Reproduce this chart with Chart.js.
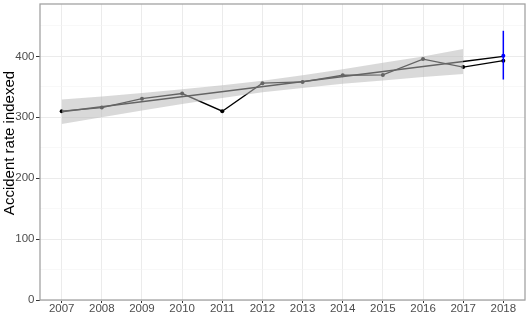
<!DOCTYPE html>
<html>
<head>
<meta charset="utf-8">
<script src="https://cdn.jsdelivr.net/npm/chart.js@4/dist/chart.umd.min.js"></script>
<style>
  html, body { margin: 0; padding: 0; background: #fff; }
  #wrap { width: 529px; height: 316px; }
</style>
</head>
<body>
<div id="wrap"><canvas id="chart" width="529" height="316"></canvas></div>
<script>
// observed index by year
const years = [2007, 2008, 2009, 2010, 2011, 2012, 2013, 2014, 2015, 2016, 2017, 2018];
const rateIndexed = [310, 316, 330.5, 339, 310, 356, 358, 369, 369.5, 395.5, 382.5, 393];

// fitted trend and its confidence band (2007-2017)
const fitYears = [2007, 2017, 2018];
const fitValues = [309, 391.5, 400];
const bandYears = [2007, 2008, 2009, 2010, 2011, 2012, 2013, 2014, 2015, 2016, 2017];
const bandUpper = [329, 334, 340, 346, 352.5, 360, 369, 379, 389.5, 400, 412];
const bandLower = [289, 300, 311, 322, 331.5, 341, 348, 355, 360.5, 366, 371];

// 2018 prediction with interval
const predYear = 2018;
const predValue = 401;
const predLow = 362;
const predHigh = 442;

const yTicks = [0, 50, 100, 150, 200, 250, 300, 350, 400, 450];
const yTitle = "Accident rate indexed";

const pts = (xs, ys) => xs.map((x, i) => ({ x: x, y: ys[i] }));

const panelBorder = {
  id: "panelBorder",
  beforeDatasetsDraw(chart) {
    const { ctx, chartArea: a } = chart;
    ctx.save();
    ctx.strokeStyle = "#a3a3a3";
    ctx.lineWidth = 1.3;
    ctx.strokeRect(a.left, a.top, a.right - a.left, a.bottom - a.top);
    ctx.restore();
  },
};

// y title drawn by hand so it can sit where ggplot put it
const sideTitle = {
  id: "sideTitle",
  afterDraw(chart) {
    const ctx = chart.ctx;
    ctx.save();
    ctx.translate(10, 143);
    ctx.rotate(-Math.PI / 2);
    ctx.font = "15px 'Liberation Sans'";
    ctx.fillStyle = "#000";
    ctx.textAlign = "center";
    ctx.textBaseline = "middle";
    ctx.fillText(yTitle, 0, 0);
    ctx.restore();
  },
};

new Chart(document.getElementById("chart").getContext("2d"), {
  type: "line",
  data: {
    datasets: [
      {
        data: pts([predYear, predYear], [predLow, predHigh]),
        borderColor: "#0000ff",
        borderWidth: 1.5,
        pointRadius: 0,
      },
      {
        data: pts([predYear], [predValue]),
        borderColor: "#0000ff",
        backgroundColor: "#0000ff",
        pointRadius: 2,
        pointBorderWidth: 0,
        showLine: false,
      },
      {
        data: pts(bandYears, bandUpper),
        borderWidth: 0,
        pointRadius: 0,
        fill: "+1",
        backgroundColor: "rgba(185,185,185,0.54)",
      },
      {
        data: pts(bandYears, bandLower),
        borderWidth: 0,
        pointRadius: 0,
      },
      {
        data: pts(fitYears, fitValues),
        borderColor: "#000",
        borderWidth: 1.4,
        pointRadius: 0,
      },
      {
        data: pts(years, rateIndexed),
        borderColor: "#000",
        backgroundColor: "#000",
        borderWidth: 1.3,
        pointRadius: 2,
        pointBorderWidth: 0,
      },
    ],
  },
  options: {
    responsive: false,
    devicePixelRatio: 1,
    animation: false,
    layout: { padding: { left: 0, top: 4, right: 4, bottom: 0 } },
    plugins: {
      legend: { display: false },
      tooltip: { enabled: false },
    },
    scales: {
      x: {
        type: "linear",
        min: 2006.46,
        max: 2018.54,
        afterBuildTicks: (s) => { s.ticks = years.map((v) => ({ value: v })); },
        afterFit: (s) => { s.height = 16; s.paddingLeft = 0; s.paddingRight = 0; },
        border: { display: false },
        grid: { color: "#ebebeb", lineWidth: 1, tickLength: 3, tickColor: "#333", tickWidth: 1 },
        ticks: {
          color: "#4d4d4d",
          font: { family: "Liberation Sans", size: 11.5 },
          padding: -1,
          maxRotation: 0,
          autoSkip: false,
          callback: (v) => String(v),
        },
      },
      y: {
        min: 0,
        max: 486,
        afterBuildTicks: (s) => { s.ticks = yTicks.map((v) => ({ value: v })); },
        afterFit: (s) => { s.width = 40; s.paddingTop = 0; s.paddingBottom = 0; },
        border: { display: false },
        grid: {
          color: (c) => (c.tick && c.tick.value % 100 ? "#f3f3f3" : "#ebebeb"),
          lineWidth: (c) => (c.tick && c.tick.value % 100 ? 0.6 : 1),
          tickLength: 4,
          tickColor: (c) => (c.tick && c.tick.value % 100 ? "rgba(0,0,0,0)" : "#333"),
          tickWidth: 1,
        },
        ticks: {
          color: "#4d4d4d",
          font: { family: "Liberation Sans", size: 11.5 },
          padding: 1.5,
          autoSkip: false,
          callback: (v) => (v % 100 === 0 ? String(v) : ""),
        },
      },
    },
  },
  plugins: [panelBorder, sideTitle],
});
</script>
</body>
</html>
